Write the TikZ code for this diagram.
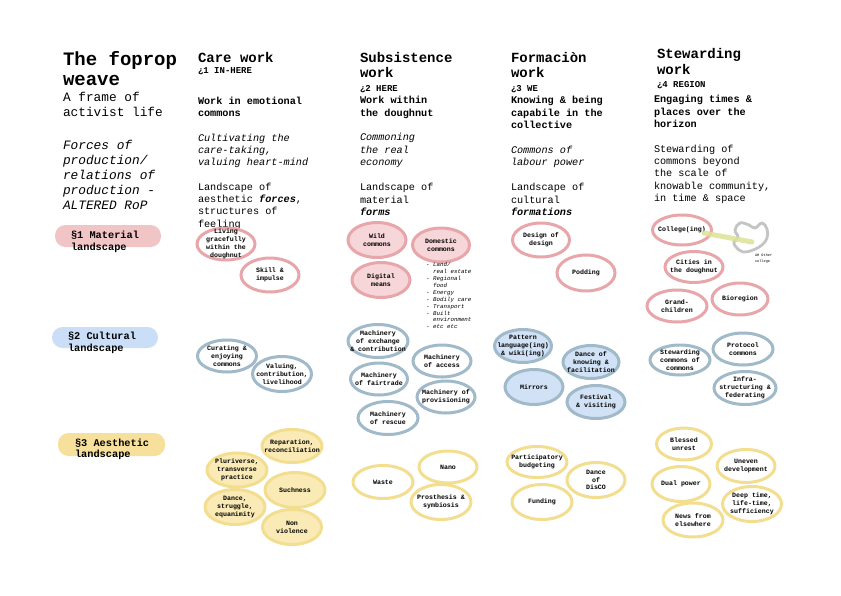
\documentclass[tikz,border=0pt]{standalone}
\usepackage{fontspec}
\setmainfont{Liberation Mono}
\usetikzlibrary{shapes.geometric}
\definecolor{pinkS}{RGB}{232,166,170}
\definecolor{pinkF}{RGB}{246,214,216}
\definecolor{blueS}{RGB}{160,186,202}
\definecolor{blueF}{RGB}{210,226,246}
\definecolor{yelS}{RGB}{243,222,144}
\definecolor{yelF}{RGB}{250,235,182}
\definecolor{pillP}{RGB}{241,196,198}
\definecolor{pillB}{RGB}{202,222,248}
\definecolor{pillY}{RGB}{246,224,156}
\definecolor{blobG}{RGB}{196,196,196}
\definecolor{linkY}{RGB}{222,226,150}
\newcommand\bl[7]{\node[#6,minimum width=#4pt,minimum height=#5pt] (#1) at (#2,#3) {};
  \node[ntxt] (#1t) at (#1.center) {#7};}
\newcommand\tx[5]{\node[txt,#4] (#1) at (#2,#3) {#5};}
\begin{document}
\begin{tikzpicture}[x=1pt,y=-1pt,
  txt/.style={anchor=base west,inner sep=0pt,outer sep=0pt},
  ttl/.style={font=\bfseries\fontsize{19}{20}\selectfont},
  colh/.style={font=\bfseries\fontsize{14}{16}\selectfont},
  tagf/.style={font=\bfseries\fontsize{9}{11}\selectfont},
  bodyb/.style={font=\bfseries\fontsize{10.2}{12.4}\selectfont},
  bodyr/.style={font=\fontsize{10.2}{12.4}\selectfont},
  bodyi/.style={font=\itshape\fontsize{10.2}{12.4}\selectfont},
  bodybi/.style={font=\bfseries\itshape\fontsize{10.2}{12.4}\selectfont},
  lbody/.style={font=\fontsize{12.8}{15}\selectfont},
  lital/.style={font=\itshape\fontsize{12.8}{15}\selectfont},
  rowl/.style={font=\bfseries\fontsize{10.3}{12.5}\selectfont},
  tiny/.style={font=\fontsize{3.6}{4.5}\selectfont},
  pill/.style={rectangle,rounded corners=10.5pt,inner sep=0pt,draw=none},
  blob/.style={ellipse,inner sep=0pt,line width=3pt},
  pk/.style={blob,draw=pinkS,fill=white},
  pkf/.style={blob,draw=pinkS,fill=pinkF},
  bw/.style={blob,draw=blueS,fill=white},
  bwf/.style={blob,draw=blueS,fill=blueF},
  ye/.style={blob,draw=yelS,fill=white},
  yef/.style={blob,draw=yelS,fill=yelF},
  ntxt/.style={inner sep=0pt,align=center,font=\bfseries\fontsize{6.6}{7.8}\selectfont},
  listf/.style={inner sep=0pt,align=left,anchor=north west,font=\itshape\fontsize{5.8}{6.9}\selectfont},
]
\fill[white] (0,0) rectangle (841,595);
\useasboundingbox (0,0) rectangle (841,595);

% ---- left column
\tx{t1}{63}{65}{ttl}{The foprop}
\tx{t2}{63}{85}{ttl}{weave}
\tx{t3}{63}{101}{lbody}{A frame of}
\tx{t4}{63}{116}{lbody}{activist life}
\tx{t5}{63}{149.5}{lital}{Forces of}
\tx{t6}{63}{164.5}{lital}{production/}
\tx{t7}{63}{179.5}{lital}{relations of}
\tx{t8}{63}{194.5}{lital}{production -}
\tx{t9}{63}{209.5}{lital}{ALTERED RoP}

% ---- care work
\tx{c1}{198}{62}{colh}{Care work}
\tx{c2}{198}{73.5}{tagf}{¿1 IN-HERE}
\tx{c3}{198}{104}{bodyb}{Work in emotional}
\tx{c4}{198}{116.4}{bodyb}{commons}
\tx{c5}{198}{141}{bodyi}{Cultivating the}
\tx{c6}{198}{153.4}{bodyi}{care-taking,}
\tx{c7}{198}{165.8}{bodyi}{valuing heart-mind}
\tx{c8}{198}{190}{bodyr}{Landscape of}
\tx{c9}{198}{202.4}{bodyr}{aesthetic {\bfseries\itshape forces},}
\tx{c10}{198}{214.8}{bodyr}{structures of}
\tx{c11}{198}{227.2}{bodyr}{feeling}

% ---- subsistence work
\tx{s1}{360}{62}{colh}{Subsistence}
\tx{s2}{360}{77}{colh}{work}
\tx{s3}{360}{91.5}{tagf}{¿2 HERE}
\tx{s4}{360}{103.5}{bodyb}{Work within}
\tx{s5}{360}{116}{bodyb}{the doughnut}
\tx{s6}{360}{140.5}{bodyi}{Commoning}
\tx{s7}{360}{153}{bodyi}{the real}
\tx{s8}{360}{165.5}{bodyi}{economy}
\tx{s9}{360}{190.5}{bodyr}{Landscape of}
\tx{s10}{360}{203}{bodyr}{material}
\tx{s11}{360}{215.5}{bodybi}{forms}

% ---- formacion work
\tx{f1}{511}{62}{colh}{Formaciòn}
\tx{f2}{511}{77}{colh}{work}
\tx{f3}{511}{91.5}{tagf}{¿3 WE}
\tx{f4}{511}{103.5}{bodyb}{Knowing \& being}
\tx{f5}{511}{116}{bodyb}{capabile in the}
\tx{f6}{511}{128.5}{bodyb}{collective}
\tx{f7}{511}{153}{bodyi}{Commons of}
\tx{f8}{511}{165.4}{bodyi}{labour power}
\tx{f9}{511}{190.5}{bodyr}{Landscape of}
\tx{f10}{511}{203}{bodyr}{cultural}
\tx{f11}{511}{215.5}{bodybi}{formations}

% ---- stewarding work
\tx{w1}{657}{58}{colh}{Stewarding}
\tx{w2}{657}{74.5}{colh}{work}
\tx{w3}{657}{87.5}{tagf}{¿4 REGION}
\tx{w4}{654}{102.5}{bodyb}{Engaging times \&}
\tx{w5}{654}{115}{bodyb}{places over the}
\tx{w6}{654}{127.5}{bodyb}{horizon}
\tx{w7}{654}{152}{bodyr}{Stewarding of}
\tx{w8}{654}{164.4}{bodyr}{commons beyond}
\tx{w9}{654}{176.8}{bodyr}{the scale of}
\tx{w10}{654}{189.2}{bodyr}{knowable community,}
\tx{w11}{654}{201.6}{bodyr}{in time \& space}

% ---- row labels
\node[pill,fill=pillP,minimum width=106pt,minimum height=22pt] (p1) at (108,236) {};
\tx{r1}{71}{238}{rowl}{§1 Material}
\tx{r2}{71}{250.5}{rowl}{landscape}
\node[pill,fill=pillB,minimum width=106pt,minimum height=21pt] (p2) at (105,337.5) {};
\tx{r3}{68}{339}{rowl}{§2 Cultural}
\tx{r4}{68}{351}{rowl}{landscape}
\node[pill,fill=pillY,minimum width=107pt,minimum height=23pt] (p3) at (111.5,444.5) {};
\tx{r5}{75}{446}{rowl}{§3 Aesthetic}
\tx{r6}{75}{457.5}{rowl}{landscape}

% ---- row 1 : material
\bl{lg}{226}{244}{58}{32}{pk}{Living\\gracefully\\within the\\doughnut}
\bl{sk}{270}{275}{58}{34}{pk}{Skill \&\\impulse}
\bl{wild}{377}{240}{58}{35}{pkf}{Wild\\commons}
\bl{dom}{441}{245}{57}{34}{pkf}{Domestic\\commons}
\bl{dig}{381}{280}{58}{35}{pkf}{Digital\\means}
\node[listf] (domlist) at (426,262.3) {- Land/\\\hspace*{1.2em}real estate\\- Regional\\\hspace*{1.2em}food\\- Energy\\- Bodily care\\- Transport\\- Built\\\hspace*{1.2em}environment\\- etc etc};
\bl{dd}{541}{240}{57}{34}{pk}{Design of\\design}
\bl{pod}{586}{273}{58}{36}{pk}{Podding}
% other college blob
\draw[blobG,line width=2.8pt] plot[smooth cycle,tension=0.7] coordinates {(735,230) (740,223) (749,225) (755,228) (762,223) (767,229) (767,238) (762,245) (753,250) (743,252) (736,247) (734,242) (738,237)};
\coordinate (oc) at (752,242);
\tx{oc1}{755}{256.5}{tiny}{AH Other}
\tx{oc2}{755}{262.5}{tiny}{college}
\bl{col}{682}{230}{59}{30}{pk}{College(ing)}
\draw[linkY,line width=5pt,line cap=round,opacity=0.85] ([xshift=-9pt,yshift=-3pt]col.east) -- (oc);
\bl{cit}{694}{267}{58}{31}{pk}{Cities in\\the doughnut}
\bl{gc}{677}{306}{60}{32}{pk}{Grand-\\children}
\bl{bio}{740}{299}{56}{32}{pk}{Bioregion}

% ---- row 2 : cultural
\bl{cur}{227}{356}{59}{32}{bw}{Curating \&\\enjoying\\commons}
\bl{val}{282}{374}{59}{35}{bw}{Valuing,\\contribution,\\livelihood}
\bl{mex}{378}{341}{60}{33}{bw}{Machinery\\of exchange\\\& contribution}
\bl{mac}{442}{361}{58}{32}{bw}{Machinery\\of access}
\bl{mft}{379}{379}{57}{32}{bw}{Machinery\\of fairtrade}
\bl{mpr}{446}{397}{58}{32}{bw}{Machinery of\\provisioning}
\bl{mre}{388}{418}{60}{33}{bw}{Machinery\\of rescue}
\bl{pat}{523}{346}{57}{33}{bwf}{Pattern\\language(ing)\\\& wiki(ing)}
\bl{dkf}{591}{362}{56}{33}{bwf}{Dance of\\knowing \&\\facilitation}
\bl{mir}{534}{387}{58}{35}{bwf}{Mirrors}
\bl{fes}{596}{402}{58}{33}{bwf}{Festival\\\& visiting}
\bl{scc}{680}{360}{60}{30}{bw}{Stewarding\\commons of\\commons}
\bl{pro}{743}{349}{60}{32}{bw}{Protocol\\commons}
\bl{inf}{745}{388}{62}{33}{bw}{Infra-\\structuring \&\\federating}

% ---- row 3 : aesthetic
\bl{rep}{292}{446}{60}{33}{yef}{Reparation,\\reconciliation}
\bl{plu}{237}{470}{60}{34}{yef}{Pluriverse,\\transverse\\practice}
\bl{such}{295}{490}{60}{35}{yef}{Suchness}
\bl{dan}{235}{507}{60}{35}{yef}{Dance,\\struggle,\\equanimity}
\bl{non}{292}{527}{59}{35}{yef}{Non\\violence}
\bl{was}{383}{482}{60}{33}{ye}{Waste}
\bl{nano}{448}{467}{58}{32}{ye}{Nano}
\bl{pros}{441}{502}{60}{35}{ye}{Prosthesis \&\\symbiosis}
\bl{pb}{537}{462}{60}{31}{ye}{Participatory\\budgeting}
\bl{ddis}{596}{480}{58}{35}{ye}{Dance\\of\\DisCO}
\bl{fun}{542}{502}{60}{35}{ye}{Funding}
\bl{blu}{684}{444}{55}{32}{ye}{Blessed\\unrest}
\bl{ud}{746}{466}{58}{33}{ye}{Uneven\\development}
\bl{dp}{681}{484}{58}{35}{ye}{Dual power}
\bl{dt}{752}{504}{59}{35}{ye}{Deep time,\\life-time,\\sufficiency}
\bl{nfe}{693}{520}{60}{34}{ye}{News from\\elsewhere}
\end{tikzpicture}
\end{document}
